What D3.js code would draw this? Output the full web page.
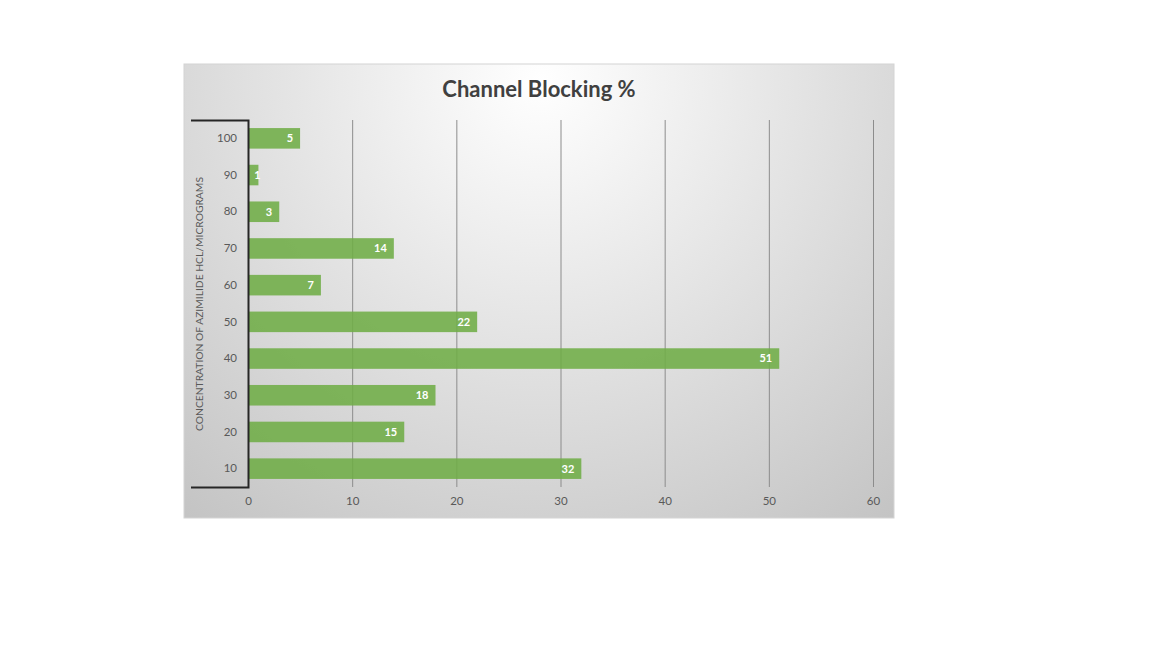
<!DOCTYPE html>
<html><head><meta charset="utf-8">
<script src="https://cdn.jsdelivr.net/npm/d3@7"></script>
<style>html,body{margin:0;padding:0;background:#fff;}svg{display:block;font-family:Lato,"Open Sans",sans-serif;}</style>
</head><body>
<svg id="chart" width="1152" height="648"></svg>
<script>
const categories = ["100","90","80","70","60","50","40","30","20","10"];
const values = [5,1,3,14,7,22,51,18,15,32];
const xTicks = [0,10,20,30,40,50,60];
const title = "Channel Blocking %";
const yTitle = "CONCENTRATION OF AZIMILIDE HCL/MICROGRAMS";

const svg = d3.select("#chart");
const box = {x:184, y:64, w:710, h:454};
const defs = svg.append("defs");
const grad = defs.append("radialGradient").attr("id","bg")
  .attr("gradientUnits","userSpaceOnUse")
  .attr("cx",540).attr("cy",80).attr("r",560);
grad.append("stop").attr("offset","0%").attr("stop-color","#ffffff");
grad.append("stop").attr("offset","100%").attr("stop-color","#c4c4c4");
svg.append("rect").attr("x",box.x).attr("y",box.y).attr("width",box.w).attr("height",box.h)
  .attr("fill","url(#bg)").attr("stroke","#d4d4d4").attr("stroke-width",1);

const x = d3.scaleLinear().domain([0,60]).range([248,873]);
const y = d3.scaleBand().domain(categories).range([120,487]).paddingInner(0.44).paddingOuter(0.22);

// gridlines
svg.append("g").selectAll("line").data(xTicks.slice(1)).join("line")
  .attr("x1",d=>x(d)+0.5).attr("x2",d=>x(d)+0.5).attr("y1",120).attr("y2",487)
  .attr("stroke","#8c8c8c").attr("stroke-width",1);

// bars
svg.append("g").selectAll("rect").data(values).join("rect")
  .attr("x",x(0)).attr("y",(d,i)=>y(categories[i]))
  .attr("width",d=>x(d)-x(0)).attr("height",y.bandwidth())
  .attr("fill","#70ad47").attr("fill-opacity",0.88);

// value labels
svg.append("g").selectAll("text").data(values).join("text")
  .attr("x",d=> (x(d)-x(0) < 20) ? x(d)-1 : x(d)-7)
  .attr("text-anchor",d=> (x(d)-x(0) < 20) ? "middle" : "end")
  .attr("y",(d,i)=>y(categories[i])+y.bandwidth()/2)
  .attr("dy","0.35em").attr("fill","#ffffff").attr("font-size",11).attr("font-weight","bold")
  .text(d=>d);

// x axis
const xAxis = svg.append("g").attr("transform","translate(0,487)")
  .call(d3.axisBottom(x).tickValues(xTicks).tickSize(0).tickPadding(10));
xAxis.select(".domain").remove();
xAxis.selectAll("text").attr("fill","#595959").attr("font-size",11.5).attr("font-family","Lato, 'Open Sans', sans-serif");

// y axis
const yAxis = svg.append("g").attr("transform","translate(248,0)")
  .call(d3.axisLeft(y).tickSize(0).tickPadding(11));
yAxis.select(".domain").remove();
yAxis.selectAll("text").attr("fill","#595959").attr("font-size",11.5).attr("font-family","Lato, 'Open Sans', sans-serif");

// bracket axis line
svg.append("path").attr("d","M191,120.5 H248.5 V487.5 H191")
  .attr("fill","none").attr("stroke","#262626").attr("stroke-width",2);

// title
svg.append("text").attr("x",539).attr("y",97).attr("text-anchor","middle")
  .attr("font-size",22).attr("font-weight","bold").attr("fill","#404040").text(title);

// y title
svg.append("text").attr("transform","translate(203,304) rotate(-90)").attr("text-anchor","middle")
  .attr("font-size",10.3).attr("fill","#595959").text(yTitle);
</script>
</body></html>
